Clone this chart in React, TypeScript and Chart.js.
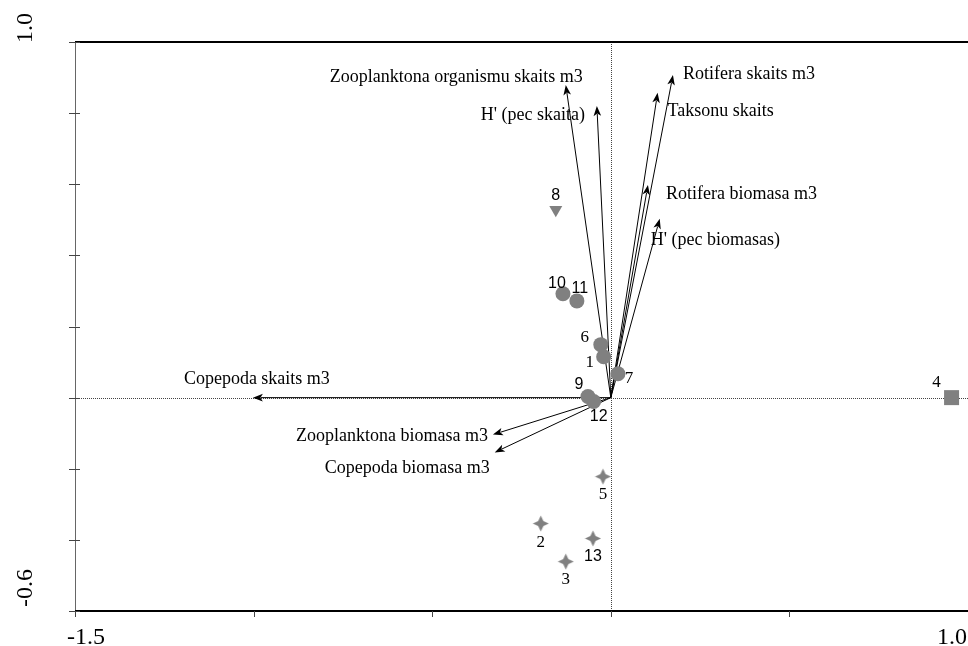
import React, { useEffect, useRef } from 'react';
import { Chart, registerables } from 'chart.js';

Chart.register(...registerables);

// ---- Site scores ----
const siteLabels = ['1', '2', '3', '4', '5', '6', '7', '8', '9', '10', '11', '12', '13'];
const siteX = [-0.020, -0.196, -0.126, 0.954, -0.022, -0.028, 0.020, -0.154, -0.064, -0.134, -0.095, -0.048, -0.050];
const siteY = [0.115, -0.354, -0.461, 0.0, -0.222, 0.149, 0.067, 0.528, 0.003, 0.292, 0.272, -0.011, -0.396];
const siteGroup = ['circle', 'star', 'star', 'square', 'star', 'circle', 'circle', 'triangle', 'circle', 'circle', 'circle', 'circle', 'star'];

// ---- Variable (arrow) scores ----
const varNames = [
  'Zooplanktona organismu skaits m3',
  "H' (pec skaita)",
  'Rotifera skaits m3',
  'Taksonu skaits',
  'Rotifera biomasa m3',
  "H' (pec biomasas)",
  'Copepoda skaits m3',
  'Zooplanktona biomasa m3',
  'Copepoda biomasa m3',
];
const varX = [-0.126, -0.039, 0.174, 0.131, 0.104, 0.137, -1.002, -0.330, -0.325];
const varY = [0.879, 0.820, 0.907, 0.857, 0.598, 0.503, 0.0, -0.104, -0.154];

// ---- Axis ticks ----
const xMin = -1.5;
const xMax = 1.0;
const yMin = -0.6;
const yMax = 1.0;
const xTickValues = [-1.5, -1.0, -0.5, 0.0, 0.5, 1.0];
const yTickValues = [-0.6, -0.4, -0.2, 0.0, 0.2, 0.4, 0.6, 0.8, 1.0];
const xTickLabels = ['-1.5', '1.0'];
const yTickLabels = ['-0.6', '1.0'];

// ---- label styling (pixel offsets, fonts) ----
const siteLabelDx = [-14, 0, 0, -15, 0, -16, 11, 0, -9, -6, 3, 5, 0];
const siteLabelDy = [6, 19, 18, -15, 18, -7, 5, -14, -12, -10, -12, 15, 18];
const siteLabelSans = [false, false, false, false, false, false, false, true, true, true, true, true, true];

const varLabelDx = [17, -12, 10, 10, 18, -9, -69, -5, -5];
const varLabelDy = [-8, 9, -1, 18, 9, 22, -18, 2, 16];
const varLabelAlign: CanvasTextAlign[] = ['right', 'right', 'left', 'left', 'left', 'left', 'left', 'right', 'right'];

const GRAY = '#808080';
const SERIF = '"Liberation Serif", "Times New Roman", serif';
const SANS = '"Liberation Sans", Arial, sans-serif';

function makeStar(): HTMLCanvasElement {
  const c = document.createElement('canvas');
  c.width = 17;
  c.height = 17;
  const ctx = c.getContext('2d')!;
  const m = 8.5, R = 8, r = 2.6;
  ctx.fillStyle = GRAY;
  ctx.beginPath();
  ctx.moveTo(m, m - R);
  ctx.lineTo(m + r, m - r);
  ctx.lineTo(m + R, m);
  ctx.lineTo(m + r, m + r);
  ctx.lineTo(m, m + R);
  ctx.lineTo(m - r, m + r);
  ctx.lineTo(m - R, m);
  ctx.lineTo(m - r, m - r);
  ctx.closePath();
  ctx.fill();
  return c;
}

const biplotPlugin = {
  id: 'biplot',
  beforeDatasetsDraw(chart: any) {
    const ctx: CanvasRenderingContext2D = chart.ctx;
    const xs = chart.scales.x;
    const ys = chart.scales.y;
    const { left, right, top, bottom } = chart.chartArea;
    const x0 = xs.getPixelForValue(0);
    const y0 = ys.getPixelForValue(0);
    ctx.save();

    // zero lines (dotted)
    ctx.strokeStyle = '#444';
    ctx.lineWidth = 1;
    ctx.setLineDash([1, 1]);
    ctx.beginPath();
    ctx.moveTo(Math.round(x0) + 0.5, top);
    ctx.lineTo(Math.round(x0) + 0.5, bottom);
    ctx.moveTo(left, Math.round(y0) + 0.5);
    ctx.lineTo(right, Math.round(y0) + 0.5);
    ctx.stroke();
    ctx.setLineDash([]);

    // frame
    ctx.strokeStyle = '#666';
    ctx.lineWidth = 1;
    ctx.beginPath();
    ctx.moveTo(left + 0.5, top);
    ctx.lineTo(left + 0.5, bottom);
    ctx.stroke();
    ctx.strokeStyle = '#000';
    ctx.lineWidth = 2;
    ctx.beginPath();
    ctx.moveTo(left, top);
    ctx.lineTo(right, top);
    ctx.moveTo(left, bottom);
    ctx.lineTo(right, bottom);
    ctx.stroke();

    // ticks
    ctx.strokeStyle = '#444';
    ctx.lineWidth = 1;
    ctx.beginPath();
    yTickValues.forEach((v) => {
      const py = Math.round(ys.getPixelForValue(v)) + 0.5;
      ctx.moveTo(left - 6, py);
      ctx.lineTo(left + 5, py);
    });
    xTickValues.forEach((v) => {
      const px = Math.round(xs.getPixelForValue(v)) + 0.5;
      ctx.moveTo(px, bottom);
      ctx.lineTo(px, bottom + 6);
    });
    ctx.stroke();

    // tick labels
    ctx.fillStyle = '#000';
    ctx.font = `24px ${SERIF}`;
    ctx.textBaseline = 'alphabetic';
    ctx.textAlign = 'left';
    ctx.fillText(xTickLabels[0], xs.getPixelForValue(xMin) - 8, 644);
    ctx.textAlign = 'right';
    ctx.fillText(xTickLabels[1], xs.getPixelForValue(xMax) - 1, 644);

    const yl = [ys.getPixelForValue(yMin) - 4, ys.getPixelForValue(yMax) + 1];
    yTickLabels.forEach((t, i) => {
      ctx.save();
      ctx.translate(32, yl[i]);
      ctx.rotate(-Math.PI / 2);
      ctx.textAlign = 'left';
      ctx.fillText(t, 0, 0);
      ctx.restore();
    });

    // arrows
    ctx.strokeStyle = '#000';
    ctx.fillStyle = '#000';
    ctx.lineWidth = 1;
    varNames.forEach((name, i) => {
      const px = xs.getPixelForValue(varX[i]);
      const py = ys.getPixelForValue(varY[i]);
      const ang = Math.atan2(py - y0, px - x0);
      const L = 10, W = 3.8;
      ctx.beginPath();
      ctx.moveTo(x0, y0);
      ctx.lineTo(px - Math.cos(ang) * L * 0.8, py - Math.sin(ang) * L * 0.8);
      ctx.stroke();
      ctx.beginPath();
      ctx.moveTo(px, py);
      ctx.lineTo(px - Math.cos(ang) * L - Math.sin(ang) * W, py - Math.sin(ang) * L + Math.cos(ang) * W);
      ctx.lineTo(px - Math.cos(ang) * L * 0.75, py - Math.sin(ang) * L * 0.75);
      ctx.lineTo(px - Math.cos(ang) * L + Math.sin(ang) * W, py - Math.sin(ang) * L - Math.cos(ang) * W);
      ctx.closePath();
      ctx.fill();
    });

    // arrow labels
    ctx.font = `18px ${SERIF}`;
    ctx.textBaseline = 'middle';
    varNames.forEach((name, i) => {
      const px = xs.getPixelForValue(varX[i]);
      const py = ys.getPixelForValue(varY[i]);
      ctx.textAlign = varLabelAlign[i];
      ctx.fillText(name, px + varLabelDx[i], py + varLabelDy[i]);
    });
    ctx.restore();
  },
  afterDatasetsDraw(chart: any) {
    const ctx: CanvasRenderingContext2D = chart.ctx;
    const xs = chart.scales.x;
    const ys = chart.scales.y;
    ctx.save();
    ctx.fillStyle = '#000';
    ctx.textAlign = 'center';
    ctx.textBaseline = 'middle';
    siteLabels.forEach((t, i) => {
      const px = xs.getPixelForValue(siteX[i]);
      const py = ys.getPixelForValue(siteY[i]);
      ctx.font = siteLabelSans[i] ? `16px ${SANS}` : `17px ${SERIF}`;
      ctx.fillText(t, px + siteLabelDx[i], py + siteLabelDy[i]);
    });
    ctx.restore();
  },
};

export default function App() {
  const ref = useRef<HTMLCanvasElement>(null);
  useEffect(() => {
    document.body.style.margin = '0';
    const star = makeStar();
    const groups = ['circle', 'triangle', 'square', 'star'];
    const datasets = groups.map((g) => {
      const idx = siteGroup.map((s, i) => (s === g ? i : -1)).filter((i) => i >= 0);
      return {
        label: g,
        data: idx.map((i) => ({ x: siteX[i], y: siteY[i] })),
        pointStyle: g === 'circle' ? 'circle' : g === 'triangle' ? 'triangle' : g === 'square' ? 'rect' : star,
        rotation: g === 'triangle' ? 180 : 0,
        pointRadius: g === 'circle' ? 7.5 : g === 'triangle' ? 7.5 : g === 'square' ? 10.6 : 8,
        backgroundColor: GRAY,
        borderColor: GRAY,
        borderWidth: 0,
        showLine: false,
      };
    });
    const chart = new Chart(ref.current!, {
      type: 'scatter',
      data: { datasets: datasets as any },
      options: {
        animation: false,
        responsive: false,
        events: [],
        layout: { autoPadding: false, padding: { left: 75, top: 42, right: 0, bottom: 35 } },
        scales: {
          x: { type: 'linear', min: xMin, max: xMax, display: false },
          y: { type: 'linear', min: yMin, max: yMax, display: false },
        },
        plugins: { legend: { display: false }, tooltip: { enabled: false } },
        clip: false as any,
      },
      plugins: [biplotPlugin],
    });
    return () => chart.destroy();
  }, []);
  return <canvas ref={ref} width={968} height={646} style={{ display: 'block' }} />;
}
